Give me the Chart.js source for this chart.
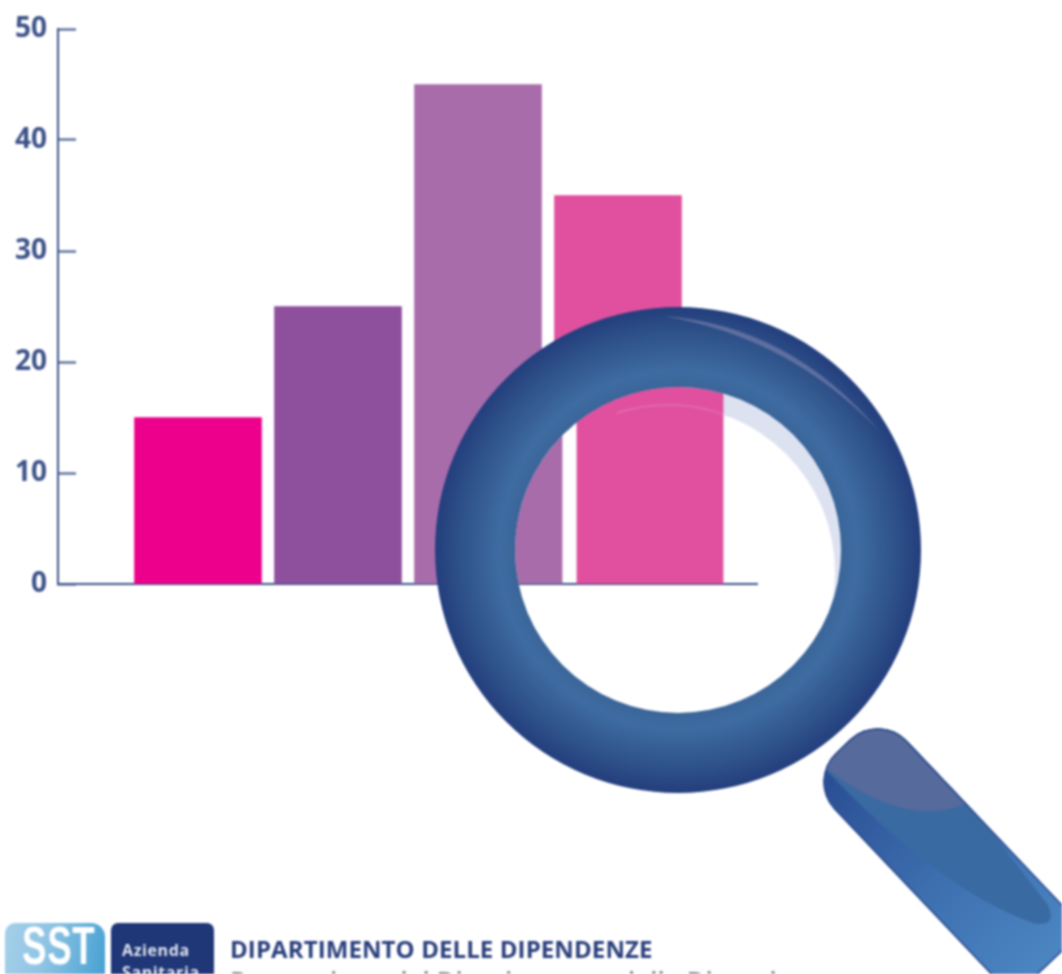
<!DOCTYPE html>
<html>
<head>
<meta charset="utf-8">
<title>Dipartimento delle Dipendenze</title>
<script src="https://cdn.jsdelivr.net/npm/chart.js@4"></script>
<style>
    html, body { margin: 0; padding: 0; background: #fff; overflow: hidden; }
    #wrap { position: relative; width: 1062px; height: 974px; overflow: hidden; filter: blur(0.8px); }
    #myChart { position: absolute; left: 0; top: 0; }
    .logo { position: absolute; top: 923px; height: 60px; overflow: hidden; color: #fff; font-weight: 700; }
    #logoSst { left: 5px; width: 100px; background: linear-gradient(100deg, #a5d0ea, #8fc4e4 40%, #45a0d2); border-radius: 10px 14px 0 0; }
    #logoSst span { position: absolute; left: 17px; top: -3px; font: 700 54px/50px "Liberation Sans", sans-serif; display: inline-block; transform: scaleX(0.68); transform-origin: left top; letter-spacing: 1px; }
    #logoAs { left: 111px; width: 103px; background: #1f3677; font: 700 16px/22px "Open Sans", sans-serif; color: #dfe3ee; padding: 16px 0 0 11px; box-sizing: border-box; border-radius: 7px 7px 0 0; letter-spacing: 0.6px; }
    .footer { position: absolute; left: 230px; white-space: nowrap; font-family: "Open Sans", sans-serif; }
    #footer1 { top: 934px; font-size: 24px; line-height: 30px; font-weight: 700; color: #2a3f7c; letter-spacing: 0.1px; }
    /* second line is cut by the image edge, wording is a guess from the letter tops */
    #footer2 { top: 965px; font-size: 26px; line-height: 30px; font-weight: 600; color: #7f8794; }
</style>
</head>
<body>
<div id="wrap">
    <canvas id="myChart" width="1062" height="974"></canvas>
    <div class="logo" id="logoSst"><span>SST</span></div>
    <div class="logo" id="logoAs">Azienda<br>Sanitaria</div>
    <div class="footer" id="footer1">DIPARTIMENTO DELLE DIPENDENZE</div>
    <div class="footer" id="footer2">Prevenzione del Disagio e cura delle Dipendenze</div>
</div>
<script>
const categories = ['', 'A', 'B', 'C', 'D', ''];
const values = [null, 15, 25, 45, 35, null];
const barColors = ['#fff', '#ec008c', '#8e4f9c', '#a96cab', '#e0509e', '#fff'];
const navy = '#3d5289';

// magnifying glass, drawn over the chart
const lens = { x: 678, y: 550, inner: 163, outer: 243, zoom: 1.15 };

const glassPlugin = {
    id: 'glass',
    afterDraw(chart) {
        const c = chart.ctx;
        const xAxis = chart.scales.x;
        const base = chart.scales.y.getPixelForValue(0);

        // what is seen through the glass
        c.save();
        c.beginPath();
        c.arc(lens.x, lens.y, lens.inner, 0, Math.PI * 2);
        c.clip();
        c.fillStyle = '#fff';
        c.fillRect(lens.x - lens.inner, lens.y - lens.inner, lens.inner * 2, lens.inner * 2);
        c.fillStyle = '#dde2f1';
        c.fillRect(lens.x, lens.y - lens.inner, lens.inner, lens.inner * 2);
        c.fillStyle = '#fff';
        c.beginPath();
        c.arc(668, 572, 167, 0, Math.PI * 2);
        c.fill();

        c.strokeStyle = navy;
        c.lineWidth = 2;
        c.beginPath();
        c.moveTo(xAxis.left, base);
        c.lineTo(xAxis.right, base);
        c.stroke();

        // same bars, enlarged around the glass
        c.save();
        c.translate(-60.7, base * (1 - lens.zoom));
        c.scale(lens.zoom, lens.zoom);
        chart.getDatasetMeta(0).data.forEach(function (bar, i) {
            if (values[i] !== null) bar.draw(c);
        });
        c.restore();

        c.strokeStyle = 'rgba(225,190,215,0.28)';
        c.lineWidth = 1.5;
        c.beginPath();
        c.arc(668, 572, 167, Math.PI * 1.4, Math.PI * 1.62);
        c.stroke();
        c.restore();

        drawHandle(c);
        drawRing(c);
    }
};

function drawRing(c) {
    const g = c.createRadialGradient(lens.x, lens.y, lens.inner, lens.x, lens.y, lens.outer);
    g.addColorStop(0, '#3a6599');
    g.addColorStop(0.2, '#3e6ca2');
    g.addColorStop(0.7, '#2e5189');
    g.addColorStop(1, '#233e7d');
    c.save();
    c.fillStyle = g;
    c.beginPath();
    c.arc(lens.x, lens.y, lens.outer, 0, Math.PI * 2);
    c.arc(lens.x, lens.y, lens.inner, 0, Math.PI * 2, true);
    c.fill();

    c.fillStyle = 'rgba(128,134,176,0.6)';
    c.beginPath();
    c.moveTo(663, 316);
    c.quadraticCurveTo(790, 325, 880, 432);
    c.quadraticCurveTo(790, 337, 663, 316);
    c.fill();
    c.restore();
}

function drawHandle(c) {
    c.save();
    const path = new Path2D();
    const m = new DOMMatrix().translate(843, 746).rotate(46.5);
    const shape = new Path2D();
    shape.roundRect(0, -50, 300, 100, [40, 22, 22, 40]);
    path.addPath(shape, m);

    const g = c.createLinearGradient(840, 770, 1040, 960);
    g.addColorStop(0, '#2b4f94');
    g.addColorStop(0.55, '#3e70b0');
    g.addColorStop(1, '#4a84c1');
    c.fillStyle = g;
    c.fill(path);
    c.clip(path);

    c.fillStyle = '#3a6aa2';
    c.beginPath();
    c.moveTo(826, 770);
    c.quadraticCurveTo(940, 890, 1033, 923);
    c.quadraticCurveTo(1058, 928, 1048, 905);
    c.lineTo(900, 715);
    c.closePath();
    c.fill();

    c.fillStyle = '#566a9b';
    c.beginPath();
    c.moveTo(826, 768);
    c.quadraticCurveTo(905, 830, 968, 803);
    c.lineTo(890, 705);
    c.lineTo(815, 725);
    c.closePath();
    c.fill();

    c.strokeStyle = '#2b4a8e';
    c.lineWidth = 3;
    c.stroke(path);
    c.restore();
}

const myChart = new Chart(document.getElementById('myChart'), {
    type: 'bar',
    data: {
        labels: categories,
        datasets: [{
            data: values,
            backgroundColor: barColors,
            barThickness: 127,
            borderWidth: 0
        }]
    },
    options: {
        responsive: false,
        animation: false,
        layout: { padding: { top: 29, right: 304, bottom: 0, left: 0 } },
        plugins: { legend: { display: false }, title: { display: false }, tooltip: { enabled: false } },
        scales: {
            x: {
                offset: false,
                grid: { display: false },
                border: { color: navy, width: 2 },
                ticks: { display: false },
                afterFit: function (scale) { scale.height = 390; }
            },
            y: {
                min: 0,
                max: 50,
                ticks: {
                    stepSize: 10,
                    padding: 29,
                    color: '#3d5289',
                    font: { family: 'Open Sans', size: 28, weight: '700' }
                },
                grid: { drawOnChartArea: false, tickLength: -18, tickColor: navy, tickWidth: 2 },
                border: { color: navy, width: 2 },
                afterFit: function (scale) {
                    scale.width = 58;
                    // keep half a label out of the layout, the plot starts at the padding
                    scale.paddingTop = 0;
                    scale.paddingBottom = 0;
                }
            }
        }
    },
    plugins: [glassPlugin]
});
</script>
</body>
</html>
